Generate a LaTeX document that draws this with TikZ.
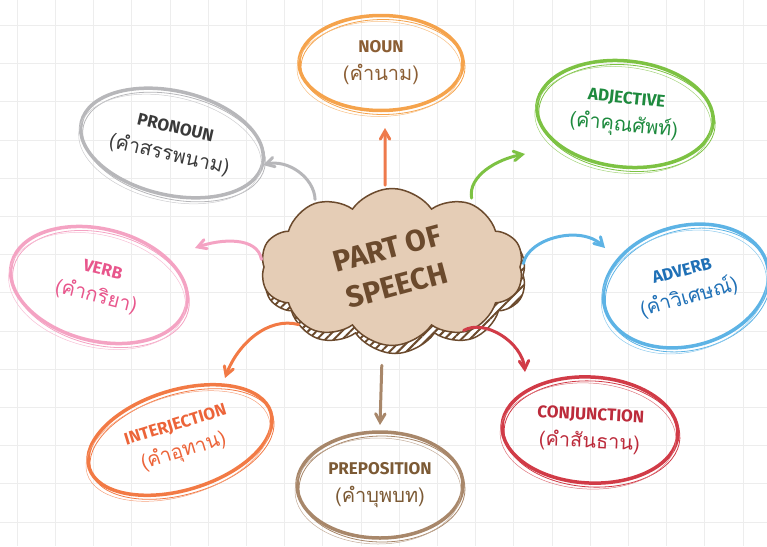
\documentclass[tikz,border=0pt]{standalone}
\usepackage{fontspec}
\setmainfont{Fira Sans}
\newfontfamily\thaifont[Script=Thai]{Loma}
\usetikzlibrary{shapes,arrows,patterns.meta}
\newcommand\thaiword[1]{{\thaifont\mdseries\fontsize{20}{28}\selectfont #1}}

\definecolor{nounc}{HTML}{F5A34C}\definecolor{nountx}{HTML}{8B5E34}
\definecolor{pronc}{HTML}{B7B7BA}\definecolor{prontx}{HTML}{3A3A3A}
\definecolor{adjc}{HTML}{7DC243}\definecolor{adjtx}{HTML}{1E8A3E}
\definecolor{verbc}{HTML}{F4A3C3}\definecolor{verbtx}{HTML}{E8568C}
\definecolor{advc}{HTML}{5DB3E5}\definecolor{advtx}{HTML}{1F70B6}
\definecolor{intc}{HTML}{F27A45}\definecolor{inttx}{HTML}{EC6439}
\definecolor{prepc}{HTML}{A8876A}\definecolor{preptx}{HTML}{7C5A35}
\definecolor{conjc}{HTML}{D13B47}\definecolor{conjtx}{HTML}{BC2B3B}
\definecolor{cloudfill}{HTML}{E5CDB6}\definecolor{cloudline}{HTML}{6B4A2D}
\definecolor{nounarr}{HTML}{EE7A4C}

\begin{document}
\begin{tikzpicture}[x=1pt,y=-1pt,>=angle 60,
  word/.style={ellipse,draw=#1,line width=3.5pt,inner sep=0pt,align=center,
    font=\fontsize{17}{28}\selectfont\bfseries,
    postaction={draw=#1,line width=.8pt,transform canvas={shift={(2pt,-4pt)}}},
    postaction={draw=#1!70,line width=.5pt,transform canvas={shift={(-2pt,-6pt)}}}},
  puffy/.style={cloud,cloud puffs=10,cloud puff arc=110,cloud ignores aspect,
    minimum width=263pt,minimum height=157pt,draw=cloudline,line width=1.5pt},
  arr/.style={->,draw=#1,line width=3pt,line cap=round,shorten <=3pt},
  gridline/.style={draw=black!7,line width=1pt}]
  \useasboundingbox (0,0) rectangle (767,546);
  \clip (0,0) rectangle (767,546);
  % background grid
  \foreach \x in {17.3,55.5,...,767} \draw[gridline] (\x,0) -- (\x,546);
  \foreach \y in {25.5,63.7,...,546} \draw[gridline] (0,\y) -- (767,\y);

  % the cloud in the middle
  \node[puffy,preaction={fill=white},pattern={Lines[angle=45,distance=6pt,line width=2pt]},pattern color=cloudline] (shade) at (395,275) {};
  \node[puffy,fill=cloudfill] (c) at (392,267) {};
  \node[rotate=15,text=cloudline,align=center,font=\fontsize{30}{38}\selectfont\bfseries] (title) at (c) {PART OF\\SPEECH};

  % the eight word classes
  \node[word=nounc,text=nountx,minimum width=164pt,minimum height=95pt] (noun) at (381,63) {NOUN\\\thaiword{(คำนาม)}};
  \node[word=pronc,text=prontx,minimum width=186pt,minimum height=104pt,rotate=-13] (pron) at (172,143) {PRONOUN\\\thaiword{(คำสรรพนาม)}};
  \node[word=adjc,text=adjtx,minimum width=177pt,minimum height=106pt,rotate=-6] (adj) at (625,114) {ADJECTIVE\\\thaiword{(คำคุณศัพท์)}};
  \node[word=verbc,text=verbtx,minimum width=180pt,minimum height=112pt,rotate=-14] (verb) at (99,285) {VERB\\\thaiword{(คำกริยา)}};
  \node[word=advc,text=advtx,minimum width=168pt,minimum height=120pt,rotate=15] (adv) at (686,286) {ADVERB\\\thaiword{(คำวิเศษณ์)}};
  \node[word=intc,text=inttx,minimum width=190pt,minimum height=100pt,rotate=17] (intj) at (180,440) {INTERJECTION\\\thaiword{(คำอุทาน)}};
  \node[word=prepc,text=preptx,minimum width=166pt,minimum height=106pt] (prep) at (380,485) {PREPOSITION\\\thaiword{(คำบุพบท)}};
  \node[word=conjc,text=conjtx,minimum width=176pt,minimum height=106pt,rotate=-3] (conj) at (590,430) {CONJUNCTION\\\thaiword{(คำสันธาน)}};

  % arrow tips
  \coordinate (t1) at (385,128);
  \coordinate (t2) at (263,165);
  \coordinate (t3) at (525,154);
  \coordinate (t4) at (195,248);
  \coordinate (t5) at (605,248);
  \coordinate (t6) at (225,378);
  \coordinate (t7) at (380,425);
  \coordinate (t8) at (525,372);

  \draw[arr=nounarr] (c.95) -- (t1);
  \draw[arr=pronc] (c.140) to[out=92,in=15] (t2);
  \draw[arr=adjc,shorten <=6pt] (c.38) to[out=100,in=190] (t3);
  \draw[arr=verbc] (c.178) to[out=100,in=20] (t4);
  \draw[arr=advc,shorten <=8pt] (c.-2) to[out=80,in=135] (t5);
  \draw[arr=intc,shorten <=6pt] (c.214) to[out=165,in=70] (t6);
  \draw[arr=prepc,shorten <=20pt] (c.263) -- (t7);
  \draw[arr=conjc,shorten <=6pt] (c.315) to[out=30,in=95] (t8);
\end{tikzpicture}
\end{document}
